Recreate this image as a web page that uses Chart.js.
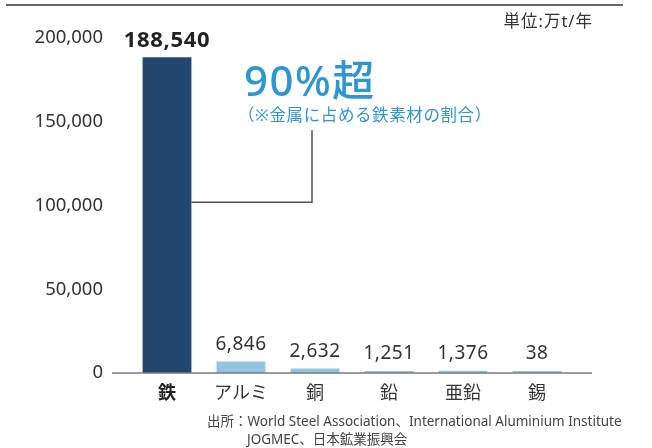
<!DOCTYPE html>
<html>
<head>
<meta charset="utf-8">
<script src="https://cdn.jsdelivr.net/npm/chart.js@4"></script>
<style>
  html, body { margin:0; padding:0; background:#ffffff; }
  #wrap { width:652px; height:448px; position:relative; }
</style>
</head>
<body>
<div id="wrap"><canvas id="c" width="652" height="448"></canvas></div>
<script>
// ---- data ----
const categories = ['鉄', 'アルミ', '銅', '鉛', '亜鉛', '錫'];
const production = [188540, 6846, 2632, 1251, 1376, 38];
const yTickValues = [0, 50000, 100000, 150000, 200000];
const unitLabel = '単位:万t/年';
const highlightText = '90%超';
const highlightNote = '（※金属に占める鉄素材の割合）';
const sourceLines = [
  '出所：World Steel Association、International Aluminium Institute',
  'JOGMEC、日本鉱業振興会'
];

const FONT = '"Noto Sans", "Noto Sans CJK JP", sans-serif';
const IRON = '#23466f';
const LIGHT = '#93c5e3';
const BLUE = '#2f96d6';
const fmt = v => v.toLocaleString('en-US');

const overlay = {
  id: 'overlay',
  afterDatasetsDraw(chart) {
    const ctx = chart.ctx;
    const meta = chart.getDatasetMeta(0);
    const ys = chart.scales.y;
    const area = chart.chartArea;
    ctx.save();

    // top rule
    ctx.strokeStyle = '#333';
    ctx.lineWidth = 1.5;
    ctx.beginPath(); ctx.moveTo(6, 5); ctx.lineTo(623, 5); ctx.stroke();

    // unit
    ctx.fillStyle = '#333';
    ctx.font = '16.5px ' + FONT;
    ctx.letterSpacing = '1px';
    ctx.textAlign = 'right'; ctx.textBaseline = 'middle';
    ctx.fillText(unitLabel, 593, 22);

    // baseline (extends past the category area)
    const y0 = ys.getPixelForValue(0);
    ctx.strokeStyle = '#7a7a7a';
    ctx.lineWidth = 1.5;
    ctx.beginPath(); ctx.moveTo(area.left - 18, y0); ctx.lineTo(area.right + 18, y0); ctx.stroke();

    // value labels
    ctx.textAlign = 'center'; ctx.textBaseline = 'middle';
    meta.data.forEach((bar, i) => {
      if (i === 0) { ctx.font = 'bold 22px ' + FONT; ctx.fillStyle = '#222'; ctx.letterSpacing = '0.7px'; }
      else { ctx.font = '19px ' + FONT; ctx.fillStyle = '#333'; ctx.letterSpacing = '0.5px'; }
      ctx.fillText(fmt(production[i]), bar.x, bar.y - 17);
    });

    // connector from iron bar to highlight
    const iron = meta.data[0];
    const cx = 312;
    const cy = ys.getPixelForValue(102000);
    ctx.strokeStyle = '#555';
    ctx.lineWidth = 1.5;
    ctx.beginPath();
    ctx.moveTo(iron.x + iron.width / 2, cy);
    ctx.lineTo(cx, cy);
    ctx.lineTo(cx, 130);
    ctx.stroke();

    // highlight text
    ctx.fillStyle = BLUE;
    ctx.textAlign = 'left';
    ctx.font = '500 42px ' + FONT;
    ctx.letterSpacing = '1.5px';
    ctx.fillText(highlightText, 244, 84);
    ctx.font = '16.5px ' + FONT;
    ctx.letterSpacing = '0.6px';
    ctx.fillText(highlightNote, 238, 116);

    // source
    ctx.fillStyle = '#444';
    ctx.font = '13.5px ' + FONT;
    ctx.letterSpacing = '0px';
    ctx.fillText(sourceLines[0], 207, 422);
    ctx.fillText(sourceLines[1], 247, 440);

    ctx.restore();
  }
};

new Chart(document.getElementById('c'), {
  type: 'bar',
  data: {
    labels: categories,
    datasets: [{
      data: production,
      backgroundColor: production.map((v, i) => i === 0 ? IRON : LIGHT),
      borderWidth: 0,
      barPercentage: 0.66,
      categoryPercentage: 1,
      minBarLength: 2
    }]
  },
  options: {
    responsive: false,
    devicePixelRatio: 1,
    animation: false,
    layout: { padding: { top: 36, right: 78, bottom: 45, left: 0 } },
    plugins: { legend: { display: false }, tooltip: { enabled: false } },
    scales: {
      x: {
        grid: { display: false, drawTicks: false },
        border: { display: false },
        afterFit(s) { s.height = 30; },
        ticks: {
          padding: 10,
          color: ctx => ctx.index === 0 ? '#222' : '#333',
          font: ctx => ({ family: FONT, size: 18, weight: ctx.index === 0 ? 'bold' : 'normal' })
        }
      },
      y: {
        min: 0,
        max: 200000,
        grid: { display: false, drawTicks: false },
        border: { display: false },
        afterFit(s) { s.width = 130; },
        afterBuildTicks(s) { s.ticks = yTickValues.map(v => ({ value: v })); },
        ticks: {
          padding: 27,
          color: '#333',
          font: { family: FONT, size: 18.5 },
          callback: v => fmt(v)
        }
      }
    }
  },
  plugins: [overlay]
});
</script>
</body>
</html>
